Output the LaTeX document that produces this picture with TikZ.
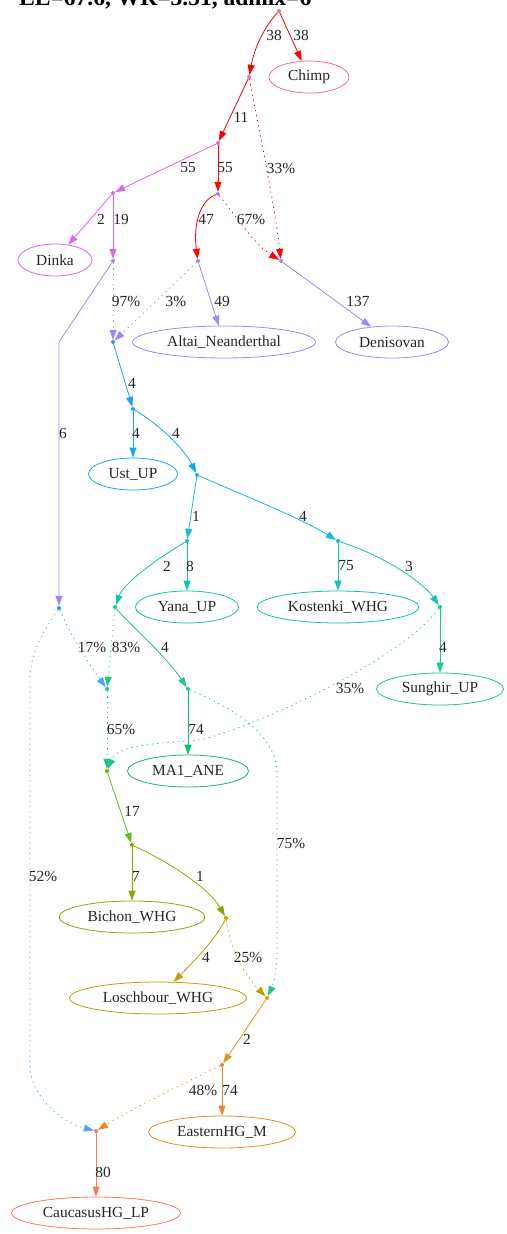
\documentclass[tikz,border=0pt]{standalone}
\usepackage{fontspec}
\setmainfont{Liberation Serif}
\usetikzlibrary{arrows.meta,shapes.geometric}
\definecolor{cRed}{HTML}{FF0000}
\definecolor{cPink}{HTML}{FF6699}
\definecolor{cViolet}{HTML}{DD66EE}
\definecolor{cPurple}{HTML}{B080FF}
\definecolor{cLav}{HTML}{9988FF}
\definecolor{cBlue}{HTML}{2299FF}
\definecolor{cBlueDot}{HTML}{44A8FF}
\definecolor{cSky}{HTML}{11AAEE}
\definecolor{cCyan}{HTML}{11BBDD}
\definecolor{cTeal}{HTML}{11C4B0}
\definecolor{cGreenA}{HTML}{11CC99}
\definecolor{cGreenB}{HTML}{22C488}
\definecolor{cGreenC}{HTML}{11BB66}
\definecolor{cYG}{HTML}{66BB11}
\definecolor{cOlive}{HTML}{88AA00}
\definecolor{cOliveB}{HTML}{BBA200}
\definecolor{cGold}{HTML}{DD9911}
\definecolor{cOrange}{HTML}{EE8822}
\definecolor{cSalmon}{HTML}{FF7766}
\newcommand\mynodefont{\fontsize{15.4}{18}\selectfont}
\newcommand\mytitlefont{\fontsize{23.5}{28}\selectfont\bfseries}
\tikzset{
  pt/.style={circle, inner sep=0pt, minimum size=4pt, draw=none},
  leaf/.style={ellipse, draw, inner sep=0pt, line width=0.8pt, minimum height=32pt, font=\mynodefont, text=black!85},
  lbl/.style={font=\mynodefont, inner sep=0pt, text=black!85},
  edge/.style={line width=0.8pt, -{Triangle[length=10pt,width=7pt]}},
  mix/.style={edge, dash pattern=on 1.2pt off 4pt}
}
\begin{document}
\begin{tikzpicture}[x=1pt,y=-1pt]
\fill[white] (0,0) rectangle (506,1234);
\useasboundingbox (0,0) rectangle (506,1234);
\node[font=\mytitlefont, anchor=base west, inner sep=0pt] (title) at (19,5.5) {LL=67.6, WR=3.51, admix=6};
% leaves
\node[leaf, draw=cPink, minimum width=80pt] (chimp) at (309,77) {Chimp};
\node[leaf, draw=cViolet, minimum width=74pt] (dinka) at (55,260) {Dinka};
\node[leaf, draw=cLav, minimum width=183pt] (altai) at (224,342) {Altai\_Neanderthal};
\node[leaf, draw=cLav, minimum width=113pt] (deni) at (392,342) {Denisovan};
\node[leaf, draw=cSky, minimum width=89pt] (ust) at (133,474) {Ust\_UP};
\node[leaf, draw=cTeal, minimum width=103pt] (yana) at (187,607) {Yana\_UP};
\node[leaf, draw=cTeal, minimum width=162pt] (kost) at (338,607) {Kostenki\_WHG};
\node[leaf, draw=cGreenA, minimum width=127pt] (sung) at (440,689) {Sunghir\_UP};
\node[leaf, draw=cGreenC, minimum width=121pt] (ma1) at (188,771) {MA1\_ANE};
\node[leaf, draw=cOlive, minimum width=146pt] (bichon) at (132,917) {Bichon\_WHG};
\node[leaf, draw=cOliveB, minimum width=177pt] (losch) at (158,998) {Loschbour\_WHG};
\node[leaf, draw=cOrange, minimum width=147pt] (ehg) at (222,1132) {EasternHG\_M};
\node[leaf, draw=cSalmon, minimum width=169pt] (chg) at (96,1213) {CaucasusHG\_LP};
% points
\node[pt, fill=cPink] (r) at (279,11) {};
\node[pt, fill=cPink] (n1) at (249,77) {};
\node[pt, fill=cViolet] (n2) at (218,143) {};
\node[pt, fill=cViolet] (n3) at (113,193) {};
\node[pt, fill=cPurple] (n4) at (218,194) {};
\node[pt, fill=cLav] (n5) at (113,261) {};
\node[pt, fill=cLav] (n6) at (281,261) {};
\node[pt, fill=cLav] (n7) at (198,261) {};
\node[pt, fill=cBlue] (n8) at (113,342) {};
\node[pt, fill=cBlue] (n9) at (59,608) {};
\node[pt, fill=cSky] (n10) at (133,409) {};
\node[pt, fill=cCyan] (n11) at (197,475) {};
\node[pt, fill=cTeal] (n12) at (187,541) {};
\node[pt, fill=cTeal] (n13) at (338,541) {};
\node[pt, fill=cGreenA] (n14) at (115,607) {};
\node[pt, fill=cGreenA] (n15) at (440,607) {};
\node[pt, fill=cGreenB] (n16) at (107,689) {};
\node[pt, fill=cGreenB] (n17) at (188,689) {};
\node[pt, fill=cYG] (n18) at (107,771) {};
\node[pt, fill=cGold] (n19) at (267,998) {};
\node[pt, fill=cOlive] (n20) at (132,845) {};
\node[pt, fill=cOliveB] (n21) at (226,918) {};
\node[pt, fill=cSalmon] (n22) at (96,1131) {};
\node[pt, fill=cOrange] (n23) at (222,1065) {};
\coordinate (k1) at (59,342);
\coordinate (k2) at (200,740);
\coordinate (k3) at (30,680);
\coordinate (k4) at (30,1065);
\coordinate (k5) at (277,775);
\coordinate (k6) at (277,948);
% edges
\draw[edge, cRed] (r) .. controls (266,25) and (255,45) .. (n1);
\draw[edge, cRed] (r) -- (chimp);
\draw[edge, cRed] (n1) -- (n2);
\draw[mix, cRed] (n1) .. controls (256,115) and (274,200) .. (n6);
\draw[edge, cViolet] (n2) -- (n3);
\draw[edge, cRed] (n2) -- (n4);
\draw[edge, cRed] (n4) .. controls (200,200) and (193,225) .. (n7);
\draw[mix, cRed] (n4) .. controls (235,215) and (255,245) .. (n6);
\draw[edge, cViolet] (n3) -- (dinka);
\draw[edge, cViolet] (n3) -- (n5);
\draw[edge, cLav] (n5) -- (k1) -- (n9);
\draw[mix, cLav] (n5) -- (n8);
\draw[mix, cLav] (n7) -- (n8);
\draw[edge, cLav] (n7) -- (altai);
\draw[edge, cLav] (n6) -- (deni);
\draw[edge, cBlue] (n8) -- (n10);
\draw[edge, cSky] (n10) -- (ust);
\draw[edge, cSky] (n10) .. controls (160,425) and (185,450) .. (n11);
\draw[edge, cCyan] (n11) -- (n12);
\draw[edge, cCyan] (n11) .. controls (250,498) and (300,518) .. (n13);
\draw[edge, cTeal] (n12) -- (yana);
\draw[edge, cTeal] (n12) .. controls (150,563) and (123,585) .. (n14);
\draw[edge, cTeal] (n13) -- (kost);
\draw[edge, cTeal] (n13) .. controls (390,558) and (425,585) .. (n15);
\draw[edge, cGreenA] (n15) -- (sung);
\draw[mix, cGreenB] (n15) .. controls (400,660) and (260,725) .. (k2) .. controls (150,744) and (118,745) .. (n18);
\draw[mix, cGreenB] (n14) -- (n16);
\draw[edge, cGreenB] (n14) .. controls (130,625) and (165,655) .. (n17);
\draw[mix, cBlueDot] (n9) .. controls (70,635) and (90,665) .. (n16);
\draw[mix, cBlueDot] (n9) .. controls (45,630) and (30,650) .. (k3) -- (k4) .. controls (30,1095) and (60,1122) .. (n22);
\draw[edge, cGreenC] (n17) -- (ma1);
\draw[mix, cGreenB] (n17) .. controls (225,705) and (277,730) .. (k5) -- (k6) .. controls (277,972) and (273,985) .. (n19);
\draw[mix, cGreenB] (n16) -- (n18);
\draw[edge, cYG] (n18) -- (n20);
\draw[edge, cOlive] (n20) -- (bichon);
\draw[edge, cOlive] (n20) .. controls (175,865) and (210,890) .. (n21);
\draw[edge, cOliveB] (n21) .. controls (215,940) and (195,960) .. (losch);
\draw[mix, cOliveB] (n21) .. controls (230,950) and (245,975) .. (n19);
\draw[edge, cGold] (n19) -- (n23);
\draw[edge, cOrange] (n23) -- (ehg);
\draw[mix, cOrange] (n23) .. controls (180,1085) and (130,1110) .. (n22);
\draw[edge, cSalmon] (n22) -- (chg);
% labels
\node[lbl] (l1) at (274,35) {38};
\node[lbl] (l2) at (301,35) {38};
\node[lbl] (l3) at (241,117) {11};
\node[lbl] (l4) at (188,168) {55};
\node[lbl] (l5) at (225,168) {55};
\node[lbl] (l6) at (281,168) {33\%};
\node[lbl] (l7) at (101,219) {2};
\node[lbl] (l8) at (121,219) {19};
\node[lbl] (l9) at (206,219) {47};
\node[lbl] (l10) at (251,219) {67\%};
\node[lbl] (l11) at (126,301) {97\%};
\node[lbl] (l12) at (176,301) {3\%};
\node[lbl] (l13) at (222,301) {49};
\node[lbl] (l14) at (358,301) {137};
\node[lbl] (l15) at (63,433) {6};
\node[lbl] (l16) at (132,383) {4};
\node[lbl] (l17) at (136,433) {4};
\node[lbl] (l18) at (176,433) {4};
\node[lbl] (l19) at (196,516) {1};
\node[lbl] (l20) at (303,516) {4};
\node[lbl] (l21) at (167,566) {2};
\node[lbl] (l22) at (190,566) {8};
\node[lbl] (l23) at (346,566) {75};
\node[lbl] (l24) at (409,566) {3};
\node[lbl] (l25) at (443,647) {4};
\node[lbl] (l26) at (92,647) {17\%};
\node[lbl] (l27) at (126,647) {83\%};
\node[lbl] (l28) at (165,647) {4};
\node[lbl] (l29) at (350,688) {35\%};
\node[lbl] (l30) at (121,729) {65\%};
\node[lbl] (l31) at (196,729) {74};
\node[lbl] (l32) at (132,811) {17};
\node[lbl] (l33) at (291,843) {75\%};
\node[lbl] (l34) at (43,876) {52\%};
\node[lbl] (l35) at (136,876) {7};
\node[lbl] (l36) at (200,876) {1};
\node[lbl] (l37) at (206,957) {4};
\node[lbl] (l38) at (248,957) {25\%};
\node[lbl] (l39) at (247,1039) {2};
\node[lbl] (l40) at (203,1090) {48\%};
\node[lbl] (l41) at (230,1090) {74};
\node[lbl] (l42) at (103,1172) {80};
\end{tikzpicture}
\end{document}
